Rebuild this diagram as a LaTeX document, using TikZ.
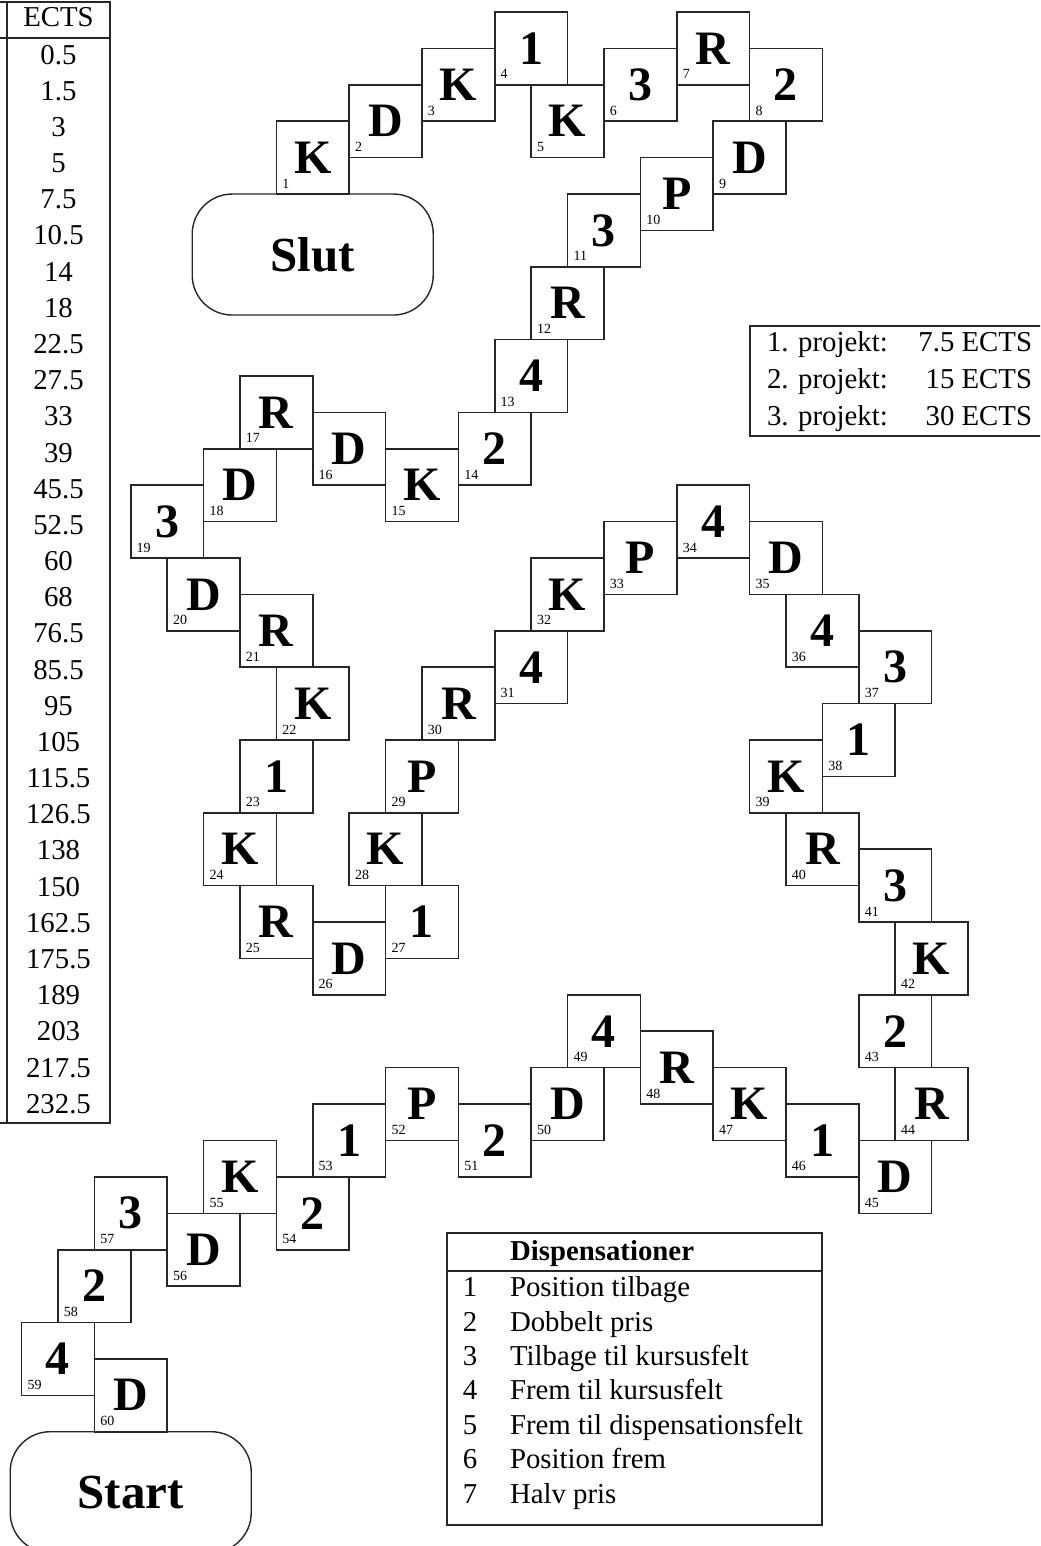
\documentclass[tikz,border=0pt]{standalone}
\usepackage{fontspec}
\setmainfont{Liberation Serif}
\usetikzlibrary{positioning}

\begin{document}
\begin{tikzpicture}[x=18.2pt, y=18.2pt]
    \tikzstyle{every node}=[font=\fontsize{14.4}{17}\selectfont, inner sep=0pt, outer sep=0pt]
    \tikzstyle{felt} = [draw=black!85, line width=0.8pt, minimum size=36.4pt, font=\fontsize{24}{28}\selectfont\bfseries]
    \tikzstyle{nr} = [anchor=base west, font=\fontsize{7}{8}\selectfont]
    \tikzstyle{endefelt} = [draw=black!85, line width=0.7pt, rounded corners=20pt, minimum width=120.5pt, minimum height=60.5pt, font=\fontsize{24.5}{28}\selectfont\bfseries]
    \tikzstyle{rule} = [draw=black!85, line width=0.8pt]
    \tikzstyle{txt} = [anchor=base west]
    \tikzstyle{tal} = [anchor=base]

    \useasboundingbox (-0.591,0.33) rectangle (27.98,-42.14);
    \clip (-0.591,0.33) rectangle (27.98,-42.14);

    % felterne
    \foreach \i/\x/\y/\t in {1/8/-4/K, 2/10/-3/D, 3/12/-2/K, 4/14/-1/1, 5/15/-3/K,
        6/17/-2/3, 7/19/-1/R, 8/21/-2/2, 9/20/-4/D, 10/18/-5/P,
        11/16/-6/3, 12/15/-8/R, 13/14/-10/4, 14/13/-12/2, 15/11/-13/K,
        16/9/-12/D, 17/7/-11/R, 18/6/-13/D, 19/4/-14/3, 20/5/-16/D,
        21/7/-17/R, 22/8/-19/K, 23/7/-21/1, 24/6/-23/K, 25/7/-25/R,
        26/9/-26/D, 27/11/-25/1, 28/10/-23/K, 29/11/-21/P, 30/12/-19/R,
        31/14/-18/4, 32/15/-16/K, 33/17/-15/P, 34/19/-14/4, 35/21/-15/D,
        36/22/-17/4, 37/24/-18/3, 38/23/-20/1, 39/21/-21/K, 40/22/-23/R,
        41/24/-24/3, 42/25/-26/K, 43/24/-28/2, 44/25/-30/R, 45/24/-32/D,
        46/22/-31/1, 47/20/-30/K, 48/18/-29/R, 49/16/-28/4, 50/15/-30/D,
        51/13/-31/2, 52/11/-30/P, 53/9/-31/1, 54/8/-33/2, 55/6/-32/K,
        56/5/-34/D, 57/3/-33/3, 58/2/-35/2, 59/1/-37/4, 60/3/-38/D}{
        \node[felt] (f\i) at (\x,\y) {\t};
        \node[nr] (n\i) at ([shift={(3pt,3pt)}]f\i.south west) {\i};
    }

    \node[endefelt, below=0pt of f1] (slut) {Slut};
    \node[endefelt, below=0pt of f60] (start) {Start};

    % ECTS
    \draw[rule] (-2,0.28) -- (2.43,0.28) -- (2.43,-30.52) -- (-2,-30.52);
    \draw[rule] (-2,-0.714) -- (2.43,-0.714);
    \draw[rule] (-0.398,0.28) -- (-0.398,-30.52);
    \node[tal] (ects) at (1.016,-0.40) {ECTS};
    \foreach \v [count=\k] in {0.5,1.5,3,5,7.5,10.5,14,18,22.5,27.5,33,39,45.5,52.5,60,
        68,76.5,85.5,95,105,115.5,126.5,138,150,162.5,175.5,189,203,217.5,232.5}
        \node[tal] (e\k) at (1.016,{-1.43-0.9938*(\k-1)}) {\v};

    % projekter
    \draw[rule] (28.3,-8.63) -- (20.01,-8.63) -- (20.01,-11.65) -- (28.3,-11.65);
    \foreach \k/\p in {1/7.5,2/15,3/30}{
        \node[txt] (p\k) at (20.48,{-9.33-1.016*(\k-1)}) {\k. projekt:};
        \node[anchor=base east] (pe\k) at (27.76,{-9.33-1.016*(\k-1)}) {\p\ ECTS};
    }

    % dispensationer
    \draw[rule] (11.69,-33.54) rectangle (21.99,-41.57);
    \draw[rule] (11.69,-34.59) -- (21.99,-34.59);
    \node[txt, font=\fontsize{14.4}{17}\selectfont\bfseries] (disp) at (13.42,-34.29) {Dispensationer};
    \foreach \k/\d in {1/Position tilbage, 2/Dobbelt pris, 3/Tilbage til kursusfelt,
        4/Frem til kursusfelt, 5/Frem til dispensationsfelt, 6/Position frem, 7/Halv pris}{
        \node[tal] (dn\k) at (12.32,{-35.29-0.945*(\k-1)}) {\k};
        \node[txt] (d\k) at (13.42,{-35.29-0.945*(\k-1)}) {\d};
    }
\end{tikzpicture}
\end{document}
